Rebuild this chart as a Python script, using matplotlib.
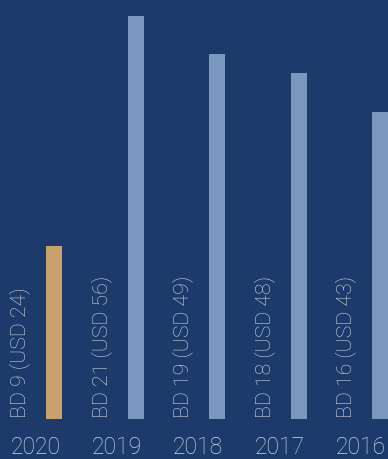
import numpy as np
import matplotlib.pyplot as plt

years = ["2020", "2019", "2018", "2017", "2016"]
bd_values = [9, 21, 19, 18, 16]
usd_values = [24, 56, 49, 48, 43]
bar_colors = ["#c9a16d", "#7a98bd", "#7a98bd", "#7a98bd", "#7a98bd"]

bg = "#1c3b6b"
text_color = "#d0d8e6"

fig = plt.figure(figsize=(3.88, 4.59), dpi=100, facecolor=bg)
ax = fig.add_axes([0, 0, 1, 1], facecolor=bg)

x = np.arange(len(years))
ax.bar(x, bd_values, width=0.196, color=bar_colors)

# rotated value labels and year labels
for i, (bd, usd, yr) in enumerate(zip(bd_values, usd_values, years)):
    ax.text(i - 0.42, 0.05, f"BD {bd} (USD {usd})", rotation=90,
            ha="center", va="bottom", color=text_color,
            fontsize=15.3, family="Roboto", weight="light")
    ax.text(i - 0.23, -1.51, yr, ha="center", va="center",
            color=text_color, fontsize=16.5, family="Roboto", weight="light")

ax.set_xlim(-0.663, 4.098)
ax.set_ylim(-2.083, 21.82)
ax.axis("off")

fig.savefig("out.png", dpi=100, facecolor=bg)
